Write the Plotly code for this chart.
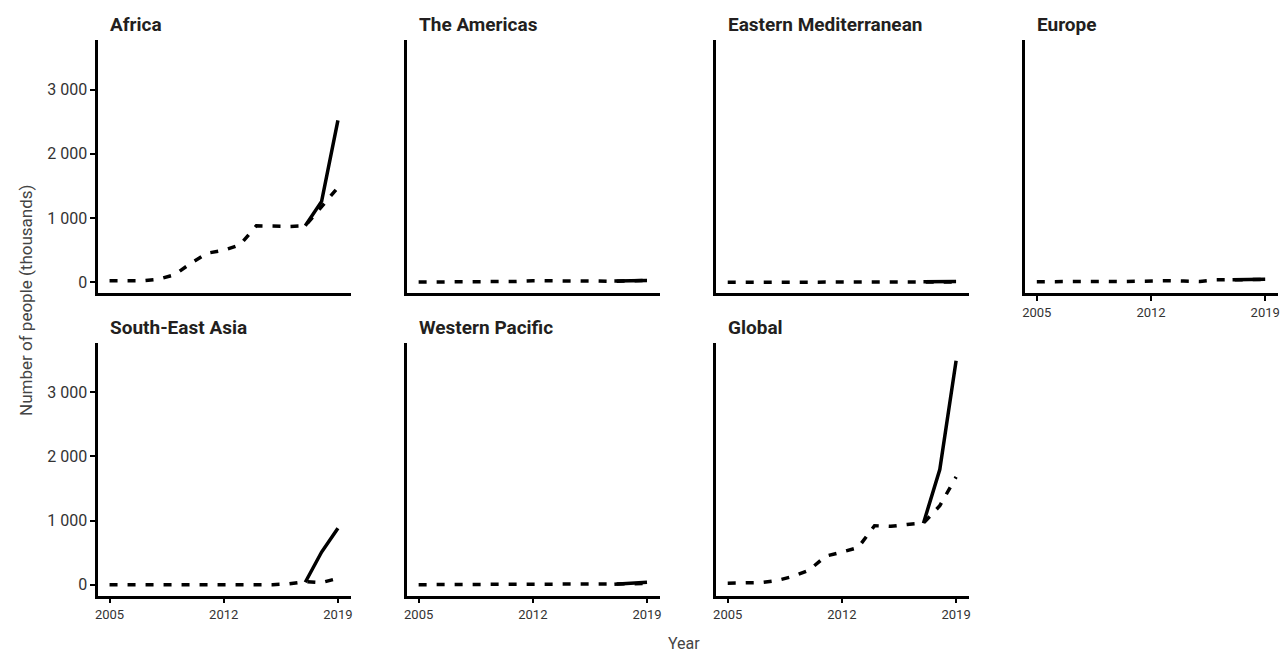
import plotly.graph_objects as go

# ---------------- data ----------------
years = [2005, 2006, 2007, 2008, 2009, 2010, 2011, 2012, 2013, 2014, 2015, 2016, 2017, 2018, 2019]
recent_years = [2017, 2018, 2019]

regions = ["Africa", "The Americas", "Eastern Mediterranean", "Europe",
           "South-East Asia", "Western Pacific", "Global"]

# dashed series (2005-2019), thousands of people
africa_dashed = [25, 25, 25, 50, 120, 300, 455, 500, 585, 880, 870, 870, 880, 1180, 1475]
americas_dashed = [5, 5, 5, 5, 8, 10, 15, 25, 25, 30, 30, 20, 15, 20, 30]
eastmed_dashed = [3, 3, 3, 3, 3, 3, 3, 3, 3, 3, 3, 3, 5, 5, 5]
europe_dashed = [10, 12, 20, 25, 15, 12, 20, 25, 25, 20, 15, 40, 45, 45, 45]
sea_dashed = [0, 0, 0, 0, 0, 0, 0, 0, 0, 0, 2, 15, 50, 35, 100]
wpac_dashed = [2, 2, 2, 2, 3, 3, 3, 5, 5, 5, 5, 8, 10, 15, 20]
global_dashed = [25, 25, 35, 65, 130, 230, 445, 510, 580, 920, 910, 940, 960, 1230, 1680]

# solid series (2017-2019)
africa_solid = [880, 1260, 2520]
americas_solid = [20, 25, 30]
eastmed_solid = [8, 10, 12]
europe_solid = [40, 45, 50]
sea_solid = [40, 510, 880]
wpac_solid = [10, 20, 40]
global_solid = [960, 1795, 3490]

y_tickvals = [0, 1000, 2000, 3000]
y_ticktext = ["0", "1 000", "2 000", "3 000"]
x_tickvals = [2005, 2012, 2019]
x_ticktext = ["2005", "2012", "2019"]

dashed_series = [africa_dashed, americas_dashed, eastmed_dashed, europe_dashed,
                 sea_dashed, wpac_dashed, global_dashed]
solid_series = [africa_solid, americas_solid, eastmed_solid, europe_solid,
                sea_solid, wpac_solid, global_solid]

# ---------------- layout geometry (pixels) ----------------
W, H = 1281, 653
col_x0 = [95.5 + 310.3 * i for i in range(4)]
panel_w = 253.5
row_top = [40, 342.7]
row_bot = [293.3, 595.7]

FONT = "Roboto"
INK = "#231f20"

fig = go.Figure()
layout_axes = {}
annotations = []

for k, name in enumerate(regions):
    row, col = divmod(k, 4)
    ax = k + 1
    xa = "x" if ax == 1 else f"x{ax}"
    ya = "y" if ax == 1 else f"y{ax}"

    fig.add_trace(go.Scatter(
        x=years, y=dashed_series[k], mode="lines", xaxis=xa, yaxis=ya,
        line=dict(color="black", width=3.5, dash="8px,10px"),
        showlegend=False, hoverinfo="x+y"))
    fig.add_trace(go.Scatter(
        x=recent_years, y=solid_series[k], mode="lines", xaxis=xa, yaxis=ya,
        line=dict(color="black", width=3.5),
        showlegend=False, hoverinfo="x+y"))

    x0 = col_x0[col] / W
    x1 = (col_x0[col] + panel_w) / W
    y0 = 1 - row_bot[row] / H
    y1 = 1 - row_top[row] / H

    show_xlabels = (row == 1) or (col == 3)
    show_ylabels = (col == 0)

    xkey = "xaxis" if ax == 1 else f"xaxis{ax}"
    ykey = "yaxis" if ax == 1 else f"yaxis{ax}"
    layout_axes[xkey] = dict(
        domain=[x0, x1], anchor=ya, range=[2004.3, 2019.78],
        showgrid=False, zeroline=False, showline=True, linecolor="black", linewidth=2.5,
        tickvals=x_tickvals, ticktext=x_ticktext,
        showticklabels=show_xlabels,
        ticks="outside" if show_xlabels else "",
        ticklen=5, tickwidth=1.5, tickcolor="black",
        tickfont=dict(family=FONT, size=13, color="#333333"),
        fixedrange=True)
    layout_axes[ykey] = dict(
        domain=[y0, y1], anchor=xa, range=[-170, 3770],
        showgrid=False, zeroline=False, showline=True, linecolor="black", linewidth=2.5,
        tickvals=y_tickvals, ticktext=y_ticktext,
        showticklabels=show_ylabels,
        ticks="outside" if show_ylabels else "",
        ticklen=5, tickwidth=1.5, tickcolor="black",
        tickfont=dict(family=FONT, size=16, color="#333333"),
        fixedrange=True)

    annotations.append(dict(
        text=f"<b>{name}</b>", xref="paper", yref="paper",
        x=(col_x0[col] + 10) / W, y=1 - (row_top[row] - 15) / H,
        xanchor="left", yanchor="middle", showarrow=False,
        font=dict(family=FONT, size=19, color=INK)))

annotations.append(dict(
    text="Year", xref="paper", yref="paper", x=684 / W, y=1 - 643 / H,
    xanchor="center", yanchor="middle", showarrow=False,
    font=dict(family=FONT, size=16, color="#444444")))
annotations.append(dict(
    text="Number of people (thousands)", xref="paper", yref="paper",
    x=23 / W, y=1 - 300 / H, textangle=-90,
    xanchor="center", yanchor="middle", showarrow=False,
    font=dict(family=FONT, size=17, color="#444444")))

fig.update_layout(
    width=W, height=H, autosize=False,
    margin=dict(l=0, r=0, t=0, b=0),
    paper_bgcolor="white", plot_bgcolor="white",
    annotations=annotations, showlegend=False,
    **layout_axes)

fig.write_html("out.html", config={"displayModeBar": False},
               post_script="document.body.style.margin='0';document.body.style.overflow='hidden';")
